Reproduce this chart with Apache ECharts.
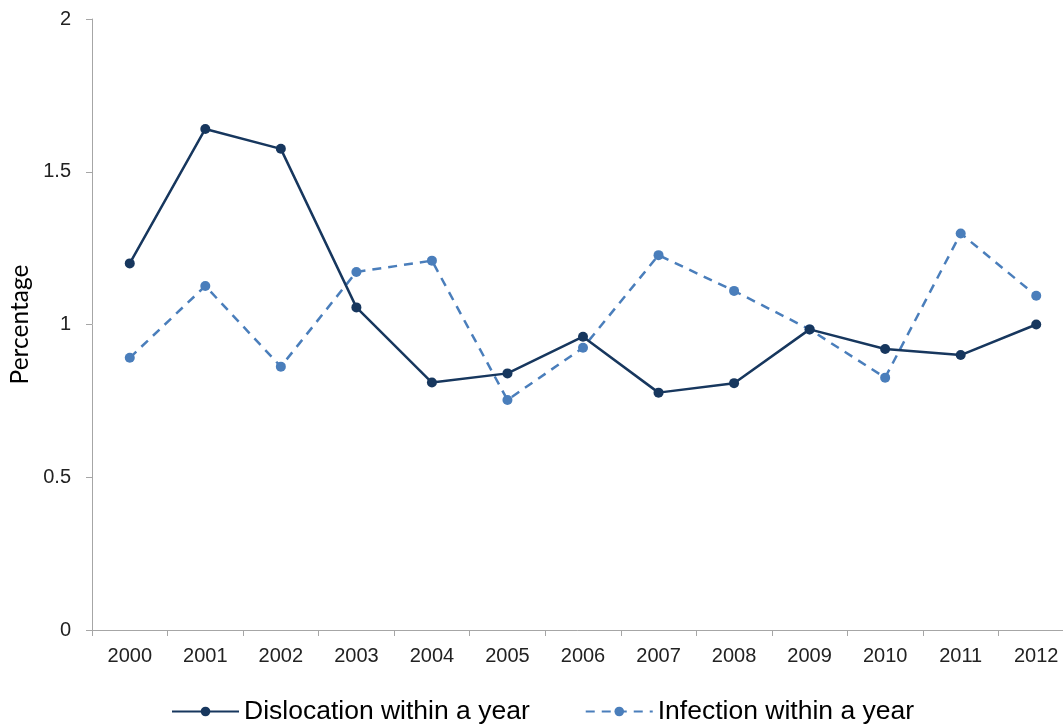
<!DOCTYPE html>
<html>
<head>
<meta charset="utf-8">
<script src="https://cdn.jsdelivr.net/npm/echarts@6/dist/echarts.min.js"></script>
<style>
  html, body { margin: 0; padding: 0; background: #fff; }
  #chart { width: 1063px; height: 726px; }
</style>
</head>
<body>
<div id="chart"></div>
<script>
// Yearly rates (%) of dislocation and infection within a year
const years = ['2000','2001','2002','2003','2004','2005','2006','2007','2008','2009','2010','2011','2012'];
const dislocation = [1.20, 1.64, 1.575, 1.056, 0.81, 0.84, 0.96, 0.777, 0.808, 0.984, 0.92, 0.90, 1.0];
const infection   = [0.891, 1.126, 0.862, 1.172, 1.209, 0.753, 0.924, 1.227, 1.11, 0.984, 0.826, 1.298, 1.094];

const darkBlue = '#17375E';
const lightBlue = '#4A7EBB';
const axisGrey = '#A6A6A6';
const font = 'Liberation Sans, Arial, sans-serif';

const chart = echarts.init(document.getElementById('chart'));
chart.setOption({
  animation: false,
  textStyle: { fontFamily: font },
  // plot area runs slightly past the right edge of the canvas
  grid: { left: 92, top: 19, width: 982, height: 611, containLabel: false, outerBoundsMode: 'none' },
  legend: {
    left: 166, top: 693,
    itemWidth: 67, itemHeight: 12, itemGap: 55,
    textStyle: { fontSize: 26.5, color: '#000', fontFamily: font },
    data: ['Dislocation within a year', 'Infection within a year']
  },
  xAxis: {
    type: 'category',
    data: years,
    boundaryGap: true,
    axisLine: { lineStyle: { color: axisGrey, width: 1 } },
    axisTick: { show: true, length: 6, alignWithLabel: false, lineStyle: { color: axisGrey } },
    axisLabel: { fontSize: 20, color: '#222', margin: 16, interval: 0 },
    splitLine: { show: false }
  },
  yAxis: {
    type: 'value',
    min: 0, max: 2, interval: 0.5,
    name: 'Percentage',
    nameLocation: 'middle',
    nameRotate: 90,
    nameGap: 58,
    nameTextStyle: { fontSize: 24.5, color: '#000', fontFamily: 'Lato, Liberation Sans, sans-serif' },
    axisLine: { show: true, lineStyle: { color: axisGrey, width: 1 } },
    axisTick: { show: true, length: 6, lineStyle: { color: axisGrey } },
    axisLabel: { fontSize: 20, color: '#222', margin: 21 },
    splitLine: { show: false }
  },
  series: [
    {
      name: 'Dislocation within a year',
      type: 'line',
      data: dislocation,
      symbol: 'circle',
      symbolSize: 10,
      lineStyle: { color: darkBlue, width: 2.5 },
      itemStyle: { color: darkBlue },
      z: 3
    },
    {
      name: 'Infection within a year',
      type: 'line',
      data: infection,
      symbol: 'circle',
      symbolSize: 10,
      lineStyle: { color: lightBlue, width: 2.5, type: [9, 7] },
      itemStyle: { color: lightBlue },
      z: 2
    }
  ]
});
</script>
</body>
</html>
